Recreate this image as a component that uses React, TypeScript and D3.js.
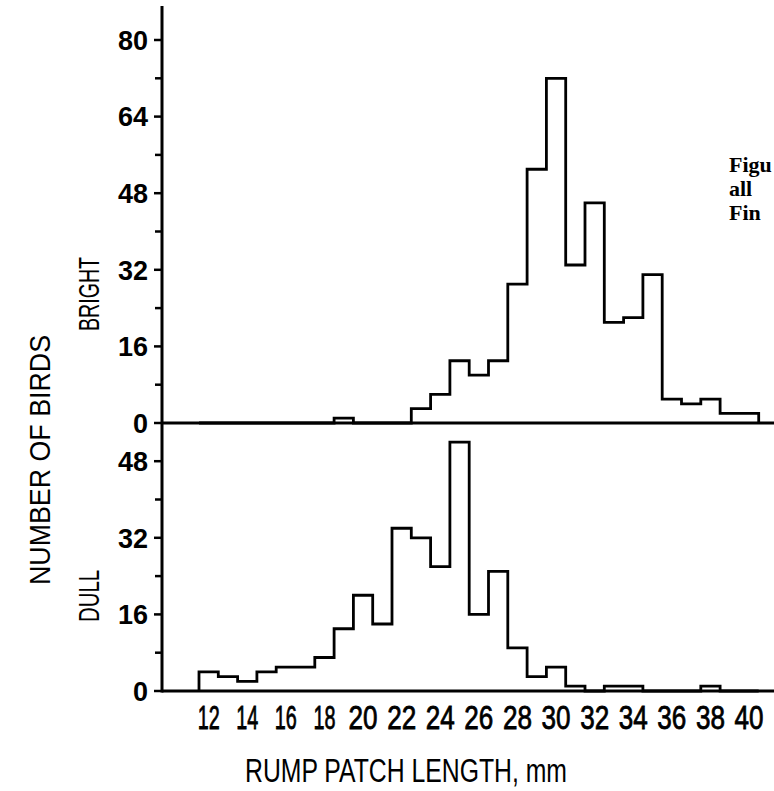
import React from 'react';
import * as d3 from 'd3';

// rump patch length bins (mm) and the counts
const binMm = [12, 13, 14, 15, 16, 17, 18, 19, 20, 21, 22, 23, 24, 25, 26, 27, 28, 29, 30, 31, 32, 33, 34, 35, 36, 37, 38, 39, 40];
const brightCounts = [0, 0, 0, 0, 0, 0, 0, 1, 0, 0, 0, 3, 6, 13, 10, 13, 29, 53, 72, 33, 46, 21, 22, 31, 5, 4, 5, 2, 2];
const dullCounts = [4, 3, 2, 4, 5, 5, 7, 13, 20, 14, 34, 32, 26, 52, 16, 25, 9, 3, 5, 1, 0, 1, 1, 0, 0, 0, 1, 0, 0];

const brightTicks = [0, 16, 32, 48, 64, 80];
const brightMinor = [8, 24, 40, 56, 72];
const dullTicks = [0, 16, 32, 48];
const dullMinor = [8, 24, 40];
const xTickLabels = [12, 14, 16, 18, 20, 22, 24, 26, 28, 30, 32, 34, 36, 38, 40];
const captionLines = ['Figu', 'all', 'Fin'];

const W = 774;
const H = 791;
const axisX = 162;

const x = d3.scaleLinear().domain([11.5, 40.5]).range([199, 758.7]);
const yTop = d3.scaleLinear().domain([0, 80]).range([423, 40]);
const yBot = d3.scaleLinear().domain([0, 48]).range([691, 461.2]);

function stepPath(counts: number[], y: d3.ScaleLinear<number, number>) {
  const pts: [number, number][] = [[binMm[0] - 0.5, 0]];
  binMm.forEach((m, i) => pts.push([m - 0.5, counts[i]]));
  const end = binMm[binMm.length - 1] + 0.5;
  pts.push([end, counts[counts.length - 1]], [end, 0]);
  return d3.line<[number, number]>()
    .x(d => x(d[0]))
    .y(d => y(d[1]))
    .curve(d3.curveStepAfter)(pts) || '';
}

const sans = 'Liberation Sans, Arial, sans-serif';

function YTicks({ major, minor, y }: { major: number[]; minor: number[]; y: d3.ScaleLinear<number, number> }) {
  return (
    <g>
      {major.map(v => (
        <g key={'M' + v}>
          <line x1={axisX - 8} x2={axisX} y1={y(v)} y2={y(v)} stroke="#000" strokeWidth={2.5} />
          <text x={axisX - 14} y={y(v)} dy="0.36em" textAnchor="end" fontFamily={sans} fontWeight="bold" fontSize={27}>{v}</text>
        </g>
      ))}
      {minor.map(v => (
        <line key={'m' + v} x1={axisX - 7} x2={axisX} y1={y(v)} y2={y(v)} stroke="#000" strokeWidth={2.5} />
      ))}
    </g>
  );
}

export default function App() {
  return (
    <svg width={W} height={H} style={{ position: 'absolute', left: 0, top: 0, display: 'block', background: '#fff' }}>
      <rect width={W} height={H} fill="#fff" />

      {/* histograms */}
      <path d={stepPath(brightCounts, yTop)} fill="none" stroke="#000" strokeWidth={2.8} strokeLinejoin="miter" />
      <path d={stepPath(dullCounts, yBot)} fill="none" stroke="#000" strokeWidth={2.8} strokeLinejoin="miter" />

      {/* axes */}
      <line x1={axisX} x2={axisX} y1={6} y2={yBot(0) + 1.5} stroke="#000" strokeWidth={3} />
      <line x1={axisX} x2={W} y1={yTop(0)} y2={yTop(0)} stroke="#000" strokeWidth={3} />
      <line x1={axisX} x2={W} y1={yBot(0)} y2={yBot(0)} stroke="#000" strokeWidth={3} />

      <YTicks major={brightTicks} minor={brightMinor} y={yTop} />
      <YTicks major={dullTicks} minor={dullMinor} y={yBot} />

      {/* x tick labels */}
      {xTickLabels.map(v => (
        <text key={v} x={x(v)} y={729} textAnchor="middle" fontFamily={sans} fontSize={33}
          stroke="#000" strokeWidth={0.8}
          textLength={String(v)[0] === '1' ? 22 : 29} lengthAdjust="spacingAndGlyphs">{v}</text>
      ))}
      <text x={406} y={782} textAnchor="middle" fontFamily={sans} fontSize={33}
        textLength={322} lengthAdjust="spacingAndGlyphs">RUMP PATCH LENGTH, mm</text>

      {/* y titles */}
      <text transform="translate(50,460) rotate(-90)" textAnchor="middle" fontFamily={sans} fontSize={30}
        textLength={250} lengthAdjust="spacingAndGlyphs">NUMBER OF BIRDS</text>
      <text transform="translate(99,294) rotate(-90)" textAnchor="middle" fontFamily={sans} fontSize={30}
        textLength={74} lengthAdjust="spacingAndGlyphs">BRIGHT</text>
      <text transform="translate(99,596) rotate(-90)" textAnchor="middle" fontFamily={sans} fontSize={30}
        textLength={52} lengthAdjust="spacingAndGlyphs">DULL</text>

      {/* caption fragment at the page edge */}
      <g fontFamily="Liberation Serif, DejaVu Serif, serif" fontWeight="bold" fontSize={22}>
        {captionLines.map((t, i) => (
          <text key={t} x={729} y={172 + i * 24}>{t}</text>
        ))}
      </g>
    </svg>
  );
}
